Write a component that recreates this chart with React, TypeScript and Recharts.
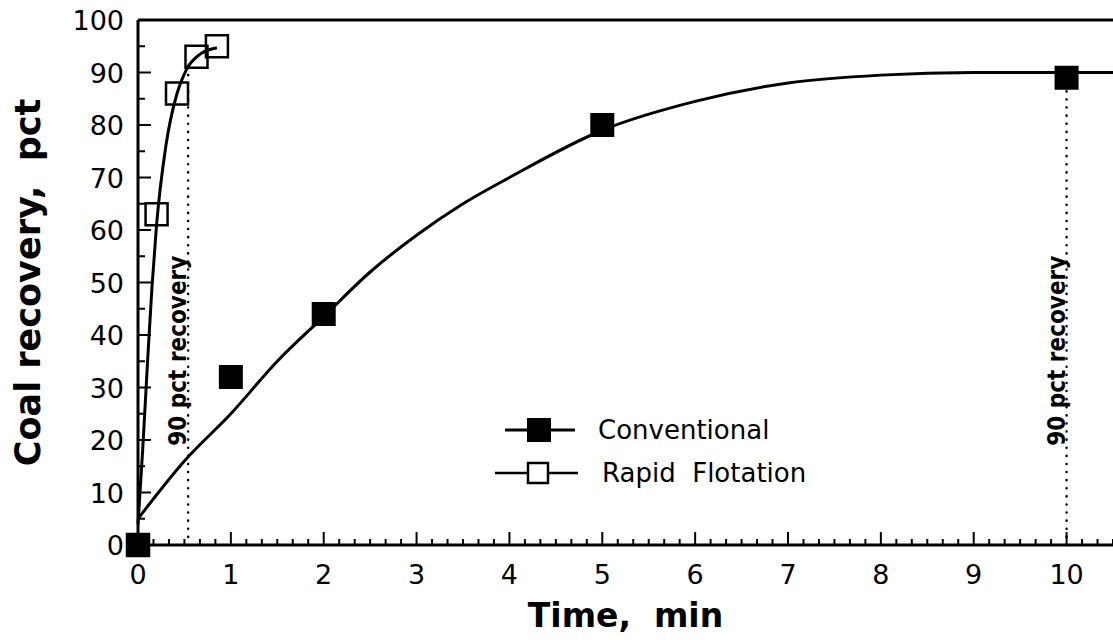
import { ComposedChart, Line, ReferenceLine, Scatter, XAxis, YAxis } from 'recharts';

// measured points
const convTime = [0, 1, 2, 5, 10];
const convRecovery = [0, 32, 44, 80, 89];
const rapidTime = [0, 0.2, 0.42, 0.63, 0.85];
const rapidRecovery = [0, 63, 86, 93, 95];

// fitted curves
const convFitTime = [0, 0.5, 1, 1.5, 2, 2.5, 3, 3.5, 4, 5, 6, 7, 8, 9, 10, 10.5];
const convFitRecovery = [5, 16, 25, 35, 43.5, 52, 59, 65, 70, 79, 84.5, 88, 89.5, 90, 90, 90];
const rapidFitTime = [0, 0.05, 0.1, 0.15, 0.2, 0.3, 0.42, 0.52, 0.67, 0.85];
const rapidFitRecovery = [4, 18, 34, 49, 61, 76, 86, 90.5, 93.5, 94.7];

// 90 pct recovery markers
const targetTimes = [0.54, 10];
const targetRecovery = 90;
const targetLabel = '90 pct recovery';

const timeTicks = [0, 1, 2, 3, 4, 5, 6, 7, 8, 9, 10];
const recoveryTicks = [0, 10, 20, 30, 40, 50, 60, 70, 80, 90, 100];

const toPoints = (xs: number[], ys: number[]) => xs.map((t, i) => ({ time: t, recovery: ys[i] }));

const convData = toPoints(convTime, convRecovery);
const rapidData = toPoints(rapidTime, rapidRecovery);
const convFit = toPoints(convFitTime, convFitRecovery);
const rapidFit = toPoints(rapidFitTime, rapidFitRecovery);

// minor ticks every 10 s on x, every 5 pct on y
const minorTimeTicks = timeTicks.flatMap((t) => [0, 1, 2, 3, 4, 5].map((k) => t + k / 6)).filter((t) => t <= 10.5);
const minorRecoveryTicks = recoveryTicks.flatMap((v) => [v, v + 5]).filter((v) => v <= 100);

const FONT = 'DejaVu Sans';
const isWhole = (v: number) => Math.abs(v - Math.round(v)) < 1e-6;

const TimeTick = (props: any) => {
    const { x, y, payload } = props;
    const major = isWhole(payload.value);
    return (
        <g>
            <line x1={x} y1={y} x2={x} y2={y - (major ? 13 : 6)} stroke="#000" strokeWidth={2} />
            {major && (
                <text x={x} y={y + 39} textAnchor="middle" fontSize={27} fontFamily={FONT} fill="#000">
                    {Math.round(payload.value)}
                </text>
            )}
        </g>
    );
};

const RecoveryTick = (props: any) => {
    const { x, y, payload } = props;
    const major = payload.value % 10 === 0;
    return (
        <g>
            <line x1={x} y1={y} x2={x + (major ? 13 : 7)} y2={y} stroke="#000" strokeWidth={2} />
            {major && (
                <text x={x - 14} y={y + 10} textAnchor="end" fontSize={27} fontFamily={FONT} fill="#000">
                    {payload.value}
                </text>
            )}
        </g>
    );
};

const XTitle = (props: any) => {
    const { x, y, width } = props.viewBox;
    return (
        <text x={x + width / 2} y={y + 82} textAnchor="middle" fontSize={33} fontWeight="bold" fontFamily={FONT} style={{ whiteSpace: 'pre' }}>
            Time,  min
        </text>
    );
};

const YTitle = (props: any) => {
    const { y, height } = props.viewBox;
    const cy = y + height / 2;
    return (
        <text x={40} y={cy} transform={`rotate(-90, 40, ${cy})`} textAnchor="middle" fontSize={35} fontWeight="bold" fontFamily={FONT} style={{ whiteSpace: 'pre' }}>
            Coal recovery,  pct
        </text>
    );
};

const TargetLabel = (props: any) => {
    const { x, y, height } = props.viewBox;
    const tx = x - 2;
    const ty = y + height * (1 - 37 / targetRecovery);
    return (
        <text x={tx} y={ty} transform={`rotate(-90, ${tx}, ${ty})`} textAnchor="middle" fontSize={24} fontWeight="bold" fontFamily="DejaVu Sans Condensed" fill="#000">
            {targetLabel}
        </text>
    );
};

const filledSquare = (p: any) => <rect x={p.cx - 12} y={p.cy - 12} width={24} height={24} fill="#000" />;
const openSquare = (p: any) => <rect x={p.cx - 11} y={p.cy - 11} width={22} height={22} fill="none" stroke="#000" strokeWidth={2.5} />;

const LegendBox = () => (
    <svg width={360} height={90} style={{ position: 'absolute', left: 490, top: 408 }}>
        <line x1={15} y1={22} x2={85} y2={22} stroke="#000" strokeWidth={3} />
        <rect x={37} y={10} width={24} height={24} fill="#000" />
        <text x={108} y={31} fontSize={26} fontFamily={FONT}>Conventional</text>
        <line x1={5} y1={65} x2={88} y2={65} stroke="#000" strokeWidth={2.5} />
        <rect x={38} y={55} width={20} height={20} fill="#fff" stroke="#000" strokeWidth={2.5} />
        <text x={112} y={74} fontSize={26} fontFamily={FONT} style={{ whiteSpace: 'pre' }}>Rapid  Flotation</text>
    </svg>
);

export default function App() {
    return (
        <div style={{ position: 'absolute', left: 0, top: 0, width: 1113, height: 640, background: '#fff' }}>
            <ComposedChart width={1113} height={640} margin={{ top: 20, right: 0, bottom: 0, left: 0 }}>
                <XAxis
                    dataKey="time"
                    type="number"
                    domain={[0, 10.5]}
                    ticks={minorTimeTicks}
                    interval={0}
                    tick={<TimeTick />}
                    tickLine={false}
                    tickSize={0}
                    tickMargin={0}
                    axisLine={{ stroke: '#000', strokeWidth: 3 }}
                    height={95}
                    label={<XTitle />}
                />
                <YAxis
                    dataKey="recovery"
                    type="number"
                    domain={[0, 100]}
                    ticks={minorRecoveryTicks}
                    interval={0}
                    tick={<RecoveryTick />}
                    tickLine={false}
                    tickSize={0}
                    tickMargin={0}
                    axisLine={{ stroke: '#000', strokeWidth: 3 }}
                    width={138}
                    label={<YTitle />}
                />
                <ReferenceLine y={100} stroke="#000" strokeWidth={3} />
                {targetTimes.map((t) => (
                    <ReferenceLine
                        key={t}
                        segment={[{ x: t, y: 0 }, { x: t, y: targetRecovery }]}
                        stroke="#000"
                        strokeWidth={2.5}
                        strokeDasharray="0.1 8"
                        strokeLinecap="round"
                        label={<TargetLabel />}
                    />
                ))}
                <Line data={convFit} dataKey="recovery" type="monotone" stroke="#000" strokeWidth={3} dot={false} legendType="none" isAnimationActive={false} />
                <Line data={rapidFit} dataKey="recovery" type="monotone" stroke="#000" strokeWidth={3} dot={false} legendType="none" isAnimationActive={false} />
                <Scatter name="Rapid Flotation" data={rapidData} dataKey="recovery" shape={openSquare} isAnimationActive={false} />
                <Scatter name="Conventional" data={convData} dataKey="recovery" shape={filledSquare} isAnimationActive={false} />
            </ComposedChart>
            <LegendBox />
        </div>
    );
}
